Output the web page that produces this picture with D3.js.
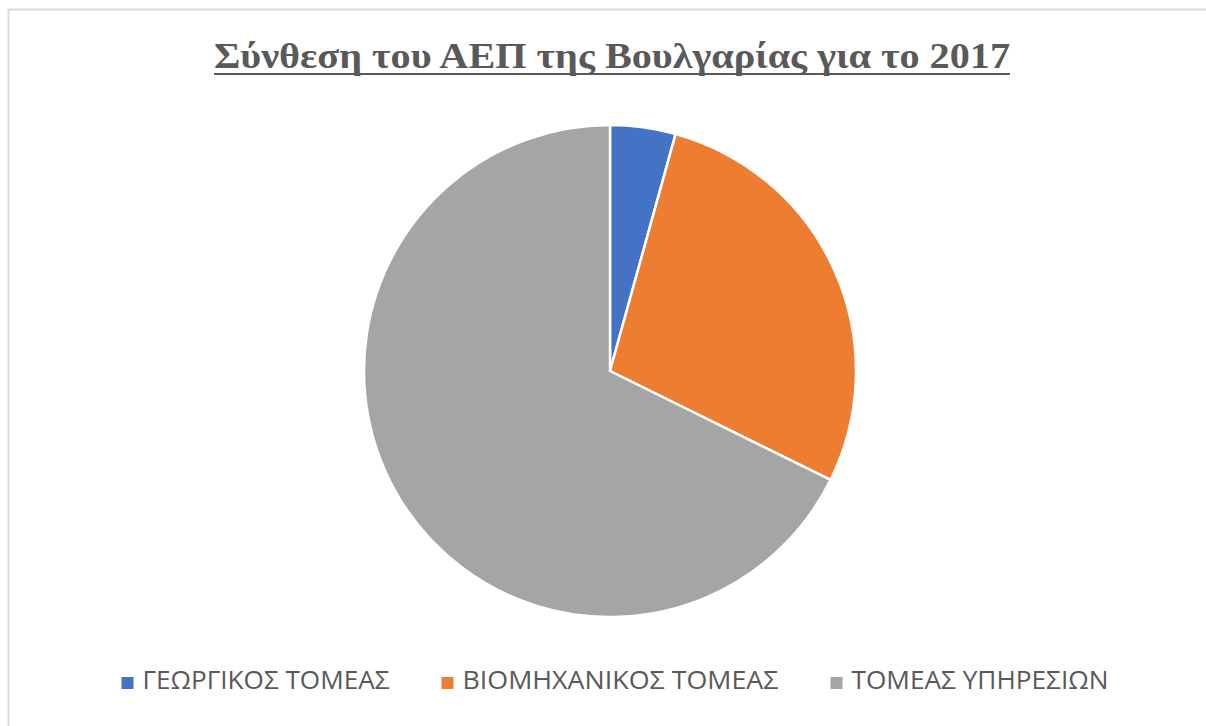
<!DOCTYPE html>
<html>
<head>
<meta charset="utf-8">
<script src="https://cdn.jsdelivr.net/npm/d3@7"></script>
<style>
  body { margin: 0; background: #fff; }
</style>
</head>
<body>
<div id="chart"></div>
<script>
// GDP composition of Bulgaria, 2017 (%)
var categories = ["ΓΕΩΡΓΙΚΟΣ ΤΟΜΕΑΣ", "ΒΙΟΜΗΧΑΝΙΚΟΣ ΤΟΜΕΑΣ", "ΤΟΜΕΑΣ ΥΠΗΡΕΣΙΩΝ"];
var values = [4.3, 28.0, 67.7];
var colors = ["#4472C4", "#ED7D31", "#A5A5A5"];
var title = "Σύνθεση του ΑΕΠ της Βουλγαρίας για το 2017";

var width = 1206, height = 726;
var cx = 610, cy = 371, radius = 246;

var svg = d3.select("#chart").append("svg")
    .attr("width", width)
    .attr("height", height);

// chart area border (runs off the right and bottom edge)
svg.append("rect")
    .attr("x", 8.5).attr("y", 9.5)
    .attr("width", width + 10).attr("height", height + 10)
    .style("fill", "#fff")
    .style("stroke", "#d9d9d9")
    .style("stroke-width", 2);

// Title
svg.append("text")
    .attr("x", 612)
    .attr("y", 68)
    .style("text-anchor", "middle")
    .style("font-family", "'Liberation Serif', 'Times New Roman', serif")
    .style("font-weight", "bold")
    .style("font-size", "36px")
    .style("fill", "#595959")
    .attr("textLength", 796)
    .attr("lengthAdjust", "spacingAndGlyphs")
    .text(title);

svg.append("line")
    .attr("x1", 214).attr("x2", 1010)
    .attr("y1", 74).attr("y2", 74)
    .style("stroke", "#595959")
    .style("stroke-width", 2);

// Pie
var pie = d3.pie().sort(null).value(function(d) { return d; });
var arc = d3.arc().innerRadius(0).outerRadius(radius);

svg.append("g")
    .attr("transform", "translate(" + cx + "," + cy + ")")
    .selectAll("path")
    .data(pie(values))
    .enter().append("path")
    .attr("d", arc)
    .style("fill", function(d, i) { return colors[i]; })
    .style("stroke", "#fff")
    .style("stroke-width", 2.5)
    .style("stroke-linejoin", "round");

// Legend
var legendTextWidths = [247, 316, 257];
var box = 12, boxGap = 9, itemGap = 52;
var total = d3.sum(legendTextWidths) + categories.length * (box + boxGap) + (categories.length - 1) * itemGap;
var lx = 615 - total / 2;
var baseline = 689;

categories.forEach(function(c, i) {
    var g = svg.append("g").attr("class", "legend")
        .attr("transform", "translate(" + lx + "," + baseline + ")");
    g.append("rect")
        .attr("x", 0).attr("y", -box)
        .attr("width", box).attr("height", box)
        .style("fill", colors[i]);
    g.append("text")
        .attr("x", box + boxGap)
        .attr("y", 0)
        .style("font-family", "'Open Sans', 'DejaVu Sans', sans-serif")
        .style("font-size", "25px")
        .style("fill", "#595959")
        .attr("textLength", legendTextWidths[i])
        .attr("lengthAdjust", "spacingAndGlyphs")
        .text(c);
    lx += box + boxGap + legendTextWidths[i] + itemGap;
});
</script>
</body>
</html>
